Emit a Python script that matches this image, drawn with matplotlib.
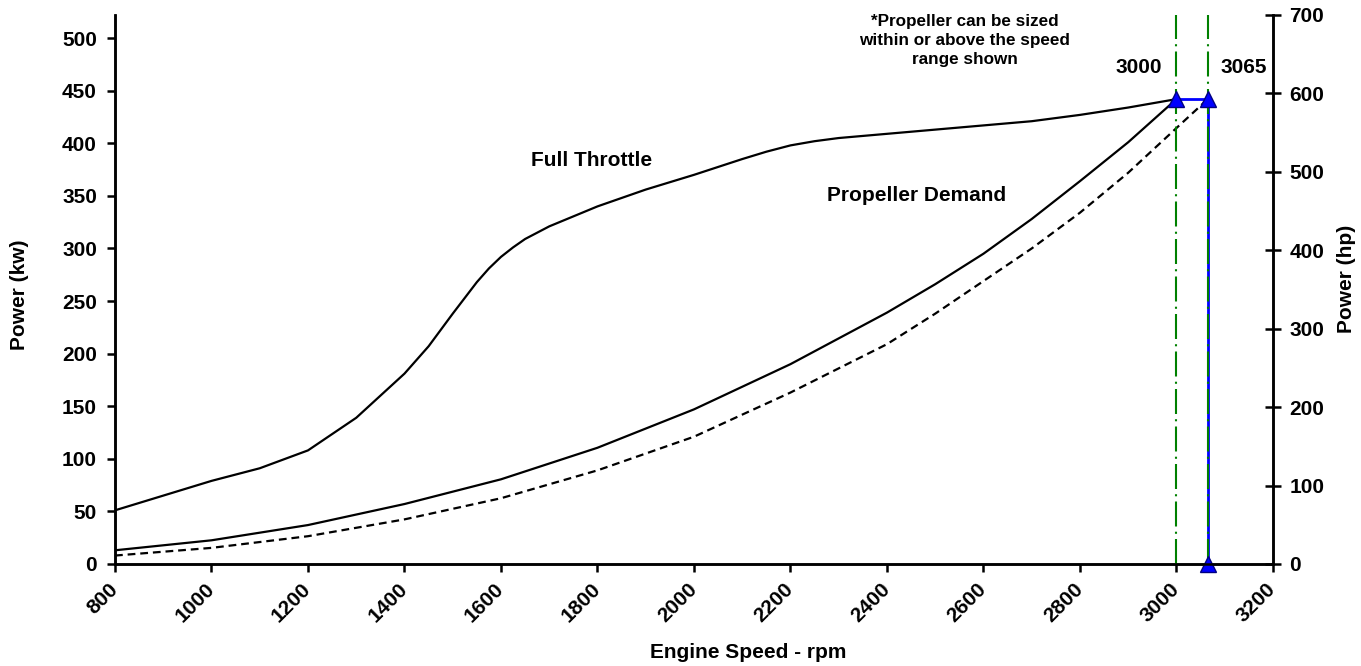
import matplotlib
matplotlib.use('Agg')
import matplotlib.pyplot as plt

plt.rcParams['font.family'] = ['Liberation Sans', 'DejaVu Sans']
plt.rcParams['font.weight'] = 'bold'

# full throttle curve (kW)
ft_rpm = [800, 900, 1000, 1100, 1200, 1300, 1400, 1450, 1500, 1550, 1575, 1600,
          1625, 1650, 1700, 1800, 1900, 2000, 2100, 2150, 2200, 2250, 2300, 2400,
          2500, 2600, 2700, 2800, 2900, 3000]
ft_kw = [51, 65, 79, 91, 108, 139, 181, 207, 238, 268, 281, 292,
         301, 309, 321, 340, 356, 370, 385, 392, 398, 402, 405, 409,
         413, 417, 421, 427, 434, 442]

# propeller demand (solid)
pd_rpm = [800, 1000, 1200, 1400, 1600, 1800, 2000, 2200, 2400, 2500, 2600,
          2700, 2800, 2900, 3000]
pd_kw = [13, 22.5, 37, 57, 80.5, 110.5, 147, 190, 239, 266, 295,
         328, 364, 401, 442]

# propeller demand sized at 3065 (dashed)
pd2_rpm = [800, 1000, 1200, 1400, 1600, 1800, 2000, 2200, 2300, 2400, 2500,
           2600, 2700, 2800, 2900, 3000, 3065]
pd2_kw = [8, 15.3, 26.4, 42.4, 62.5, 89, 121, 163, 186, 209, 238,
          269, 300, 334, 372, 414.5, 442]

# rated points
rated_rpm = [3000, 3065]
rated_kw = 442
marker_rpm = [3000, 3065, 3065]
marker_kw = [442, 442, 0]

x_ticks = list(range(800, 3201, 200))
kw_ticks = list(range(0, 501, 50))
hp_ticks = list(range(0, 701, 100))

fs = 15

fig = plt.figure(figsize=(13.61, 6.66), dpi=100)
ax = fig.add_axes([0.0845, 0.1532, 0.8508, 0.8243])
ax2 = ax.twinx()

ax.plot(ft_rpm, ft_kw, color='black', lw=1.6, zorder=3)
ax.plot(pd_rpm, pd_kw, color='black', lw=1.6, zorder=3)
ax.plot(pd2_rpm, pd2_kw, color='black', lw=1.6, ls=(0, (3.5, 2.2)), zorder=3)

# blue rated line
ax.plot([rated_rpm[0], rated_rpm[1], rated_rpm[1]], [rated_kw, rated_kw, 0],
        color='#0000FF', lw=2, zorder=2)
for r in rated_rpm:
    ax.axvline(r, color='#008000', lw=1.5, ls=(0, (12, 2.5, 1, 2.5)), zorder=4)
ax.plot(marker_rpm, marker_kw, ls='none', marker='^', ms=11,
        mfc='#0000FF', mec='#000080', mew=1, zorder=5, clip_on=False)

ax.set_xlim(800, 3200)
ax.set_ylim(0, 522)
ax2.set_ylim(0, 700)

ax.set_xticks(x_ticks)
ax.set_xticklabels([str(t) for t in x_ticks], rotation=45, ha='right',
                   va='center', rotation_mode='anchor')
ax.set_yticks(kw_ticks)
ax2.set_yticks(hp_ticks)

for a in (ax, ax2):
    a.spines['top'].set_visible(False)
    for s in a.spines.values():
        s.set_linewidth(1.8)
ax.tick_params(axis='both', direction='out', length=6, width=1.8,
               labelsize=fs, pad=7)
ax.tick_params(axis='x', pad=10)
ax2.tick_params(axis='y', direction='inout', length=12, width=1.8,
                labelsize=fs, pad=6)

ax.set_xlabel('Engine Speed - rpm', fontsize=fs, fontweight='bold')
ax.xaxis.set_label_coords(0.547, -0.144)
ax.set_ylabel('Power (kw)', fontsize=fs, fontweight='bold')
ax.yaxis.set_label_coords(-0.0745, 0.49)
ax2.set_ylabel('Power (hp)', fontsize=fs, fontweight='bold')
ax2.yaxis.set_label_coords(1.055, 0.52)

ax.text(1788, 384, 'Full Throttle', fontsize=fs, fontweight='bold',
        ha='center', va='center')
ax.text(2462, 350, 'Propeller Demand', fontsize=fs, fontweight='bold',
        ha='center', va='center')
ax.text(2921, 472.5, '3000', fontsize=fs, fontweight='bold',
        ha='center', va='center')
ax.text(3140, 472.5, '3065', fontsize=fs, fontweight='bold',
        ha='center', va='center')
ax.text(2561, 498, '*Propeller can be sized\nwithin or above the speed\nrange shown',
        fontsize=12.3, fontweight='bold', ha='center', va='center',
        linespacing=1.35)

fig.savefig('out.png', dpi=100)
